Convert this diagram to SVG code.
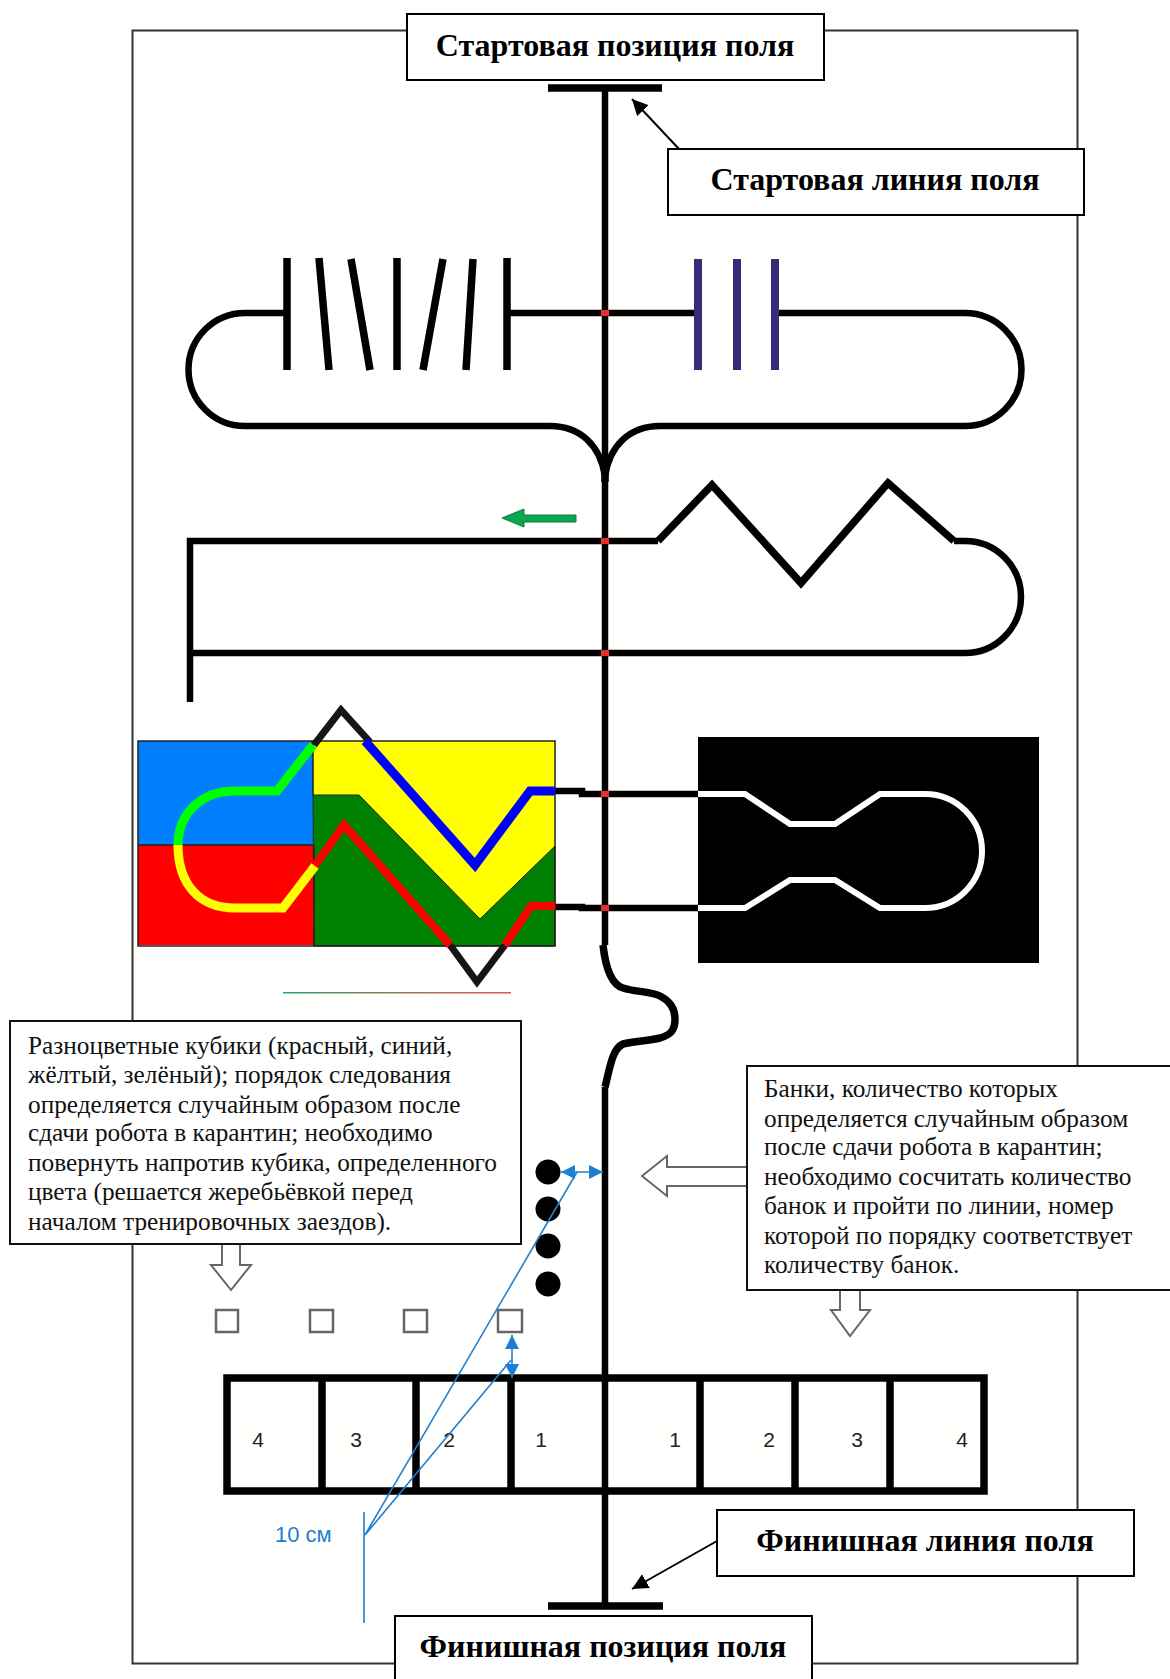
<svg xmlns="http://www.w3.org/2000/svg" width="1170" height="1679" viewBox="0 0 1170 1679">
<style>
.t{fill:none;stroke:#000;stroke-width:6.500}
.bar{fill:none;stroke:#000;stroke-width:7.500}
.pb{fill:none;stroke:#3b2a78;stroke-width:8}
.box{fill:#fff;stroke:#000;stroke-width:2}
.cb{fill:#fff;stroke:#111;stroke-width:2}
.title{font:bold 32px "Liberation Serif",serif;text-anchor:middle;fill:#000}
.note{font:25.300px "Liberation Serif",serif;fill:#111}
.num{font:21px "Liberation Sans",sans-serif;fill:#222;text-anchor:middle}
.x{fill:#e03030}
.sq{fill:#fff;stroke:#666;stroke-width:2.500}
.wa{fill:#fff;stroke:#666;stroke-width:2}
.bl{fill:none;stroke:#1f7fd0;stroke-width:1.600}
.ar{fill:none;stroke:#000;stroke-width:2}
</style>
<defs>
<marker id="ah" markerWidth="9" markerHeight="9" refX="8" refY="4" orient="auto"><path d="M0 0L8 4L0 8Z" fill="#000"/></marker>
<marker id="ab" markerWidth="10" markerHeight="10" refX="9" refY="4.500" orient="auto-start-reverse"><path d="M0 0L9 4.500L0 9Z" fill="#1f7fd0"/></marker>
<linearGradient id="g"><stop offset="0" stop-color="#2ea36a"/><stop offset="1" stop-color="#e8544c"/></linearGradient>
</defs>
<rect width="1170" height="1679" fill="#fffffd"/>
<rect id="frame" x="132.500" y="30.500" width="945" height="1633" fill="none" stroke="#333" stroke-width="2"/>

<g id="track">
<path class="bar" d="M548 88H662"/>
<path class="t" d="M605 88V945"/>
<path class="t" d="M287 313H245A56.500 56.500 0 0 0 245 426H550C580 426 600 445 605 476C610 445 630 426 660 426H965A56.500 56.500 0 0 0 965 313H775M698 313H507"/>
<path class="bar" d="M605 470V482"/>
<path class="bar" d="M287 258V370M319 258L329 370M351 259L370 370M397 258V370M443 259L423 370M473 259L466 370M507 258V370"/>
<path class="pb" d="M698 259V370M737 259V370M775 259V370"/>
<path class="t" d="M190 702V541H658"/>
<path class="bar" d="M658 541L712 485L801 583L888 483L954 541"/>
<path class="t" d="M954 541H965A56 56 0 0 1 965 653H190"/>
<path d="M576 515V522H524V527L502 518L524 509V515Z" fill="#0aa650" stroke="#0d7a40"/>
<path class="t" d="M555 791H582V794H698M555 907H582V908H698"/>
<path class="bar" d="M603 945C606 972 613 985 623 988C635 992 650 991 660 996C670 1001 675 1009 675 1019C675 1031 670 1035 660 1038C648 1041 635 1041 623 1044C612 1049 610 1068 605 1087"/>
<path class="t" d="M605 1087V1605"/>
<path class="bar" d="M548 1606H663"/>
<rect class="x" x="601" y="310" width="8" height="6"/>
<rect class="x" x="601" y="538" width="8" height="6"/>
<rect class="x" x="601" y="650" width="8" height="6"/>
<rect class="x" x="601" y="791" width="8" height="6"/>
<rect class="x" x="601" y="905" width="8" height="6"/>
</g>

<g id="color-zone">
<rect x="138" y="741" width="176" height="104" fill="#0080ff"/>
<rect x="138" y="845" width="176" height="100" fill="#f00"/>
<rect x="313" y="741" width="242" height="190" fill="#ff0"/>
<path d="M313 795H359L480 919L555 846V946H314Z" fill="#008000" stroke="#222" stroke-width="1"/>
<path d="M138 741H555V946H138ZM313 741V795M314 845V946M138 845H314" fill="none" stroke="#222" stroke-width="1.500"/>
<path d="M314 745L341 710L370 742M450 945L477 982L505 945" fill="none" stroke="#161616" stroke-width="7"/>
<path d="M365 741L475 865L530 791H555" fill="none" stroke="#00f" stroke-width="9"/>
<path d="M314 867L344 825L450 945M505 945L531 906H555" fill="none" stroke="#f00" stroke-width="8"/>
<path d="M313 745L277 791H235C200 791 178 815 178 845" fill="none" stroke="#0f0" stroke-width="9"/>
<path d="M178 845C178 885 200 908 235 908H283L315 866" fill="none" stroke="#ff0" stroke-width="9"/>
<rect x="283" y="992" width="228" height="1.500" fill="url(#g)"/>
</g>

<g id="inverse-zone">
<rect x="698" y="737" width="341" height="226" fill="#000"/>
<path d="M698 794H745L790 824H835L880 794H925A57 57 0 0 1 925 908H880L835 880H790L745 908H698" fill="none" stroke="#fff" stroke-width="6"/>
</g>

<g id="finish-grid">
<path class="bar" d="M227 1378H984V1491H227ZM322 1378V1491M416 1378V1491M511 1378V1491M700 1378V1491M795 1378V1491M890 1378V1491"/>
<text class="num" x="258" y="1447">4</text>
<text class="num" x="356" y="1447">3</text>
<text class="num" x="449" y="1447">2</text>
<text class="num" x="541" y="1447">1</text>
<text class="num" x="675" y="1447">1</text>
<text class="num" x="769" y="1447">2</text>
<text class="num" x="857" y="1447">3</text>
<text class="num" x="962" y="1447">4</text>
</g>

<g id="cans" fill="#000">
<circle cx="548" cy="1172" r="12.500"/><circle cx="548" cy="1209" r="12.500"/><circle cx="548" cy="1246" r="12.500"/><circle cx="548" cy="1284" r="12.500"/>
</g>
<g id="cubes">
<rect class="sq" x="216" y="1310" width="22" height="22"/><rect class="sq" x="310" y="1310" width="23" height="22"/><rect class="sq" x="404" y="1310" width="23" height="22"/><rect class="sq" x="498" y="1310" width="24" height="22"/>
</g>

<g id="connectors">
<path class="ar" marker-end="url(#ah)" d="M679 149L632 99"/>
<path class="ar" marker-end="url(#ah)" d="M717 1541L632 1589"/>
<path class="wa" d="M222 1243H240V1265H251L231 1290L211 1265H222Z"/>
<path class="wa" d="M747 1167H667V1156L642 1176L667 1196V1186H747Z"/>
<path class="wa" d="M840 1288H860V1310H870L850 1336L831 1310H840Z"/>
<path class="bl" marker-start="url(#ab)" marker-end="url(#ab)" d="M561 1172H603"/>
<path class="bl" marker-start="url(#ab)" marker-end="url(#ab)" d="M512 1335V1378"/>
<path class="bl" d="M364 1512V1623M365 1535L577 1172M365 1535L511 1360"/>
</g>
<text id="dim" x="275" y="1542" font-family="Liberation Sans,sans-serif" font-size="22" fill="#1f7fd0">10 см</text>

<g id="start-pos"><rect class="box" x="407" y="14" width="417" height="66"/><text class="title" x="615" y="56">Стартовая позиция поля</text></g>
<g id="start-line"><rect class="box" x="668" y="149" width="416" height="66"/><text class="title" x="875" y="190">Стартовая линия поля</text></g>
<g id="finish-line"><rect class="box" x="717" y="1510" width="417" height="66"/><text class="title" x="925" y="1551">Финишная линия поля</text></g>
<g id="finish-pos"><rect class="box" x="395" y="1616" width="417" height="70"/><text class="title" x="603" y="1657">Финишная позиция поля</text></g>

<g id="note-left"><rect class="cb" x="10" y="1021" width="511" height="223"/>
<text class="note" x="28" y="1054">Разноцветные кубики (красный, синий,</text>
<text class="note" x="28" y="1083">жёлтый, зелёный); порядок следования</text>
<text class="note" x="28" y="1113">определяется случайным образом после</text>
<text class="note" x="28" y="1141">сдачи робота в карантин; необходимо</text>
<text class="note" x="28" y="1171">повернуть напротив кубика, определенного</text>
<text class="note" x="28" y="1200">цвета (решается жеребьёвкой перед</text>
<text class="note" x="28" y="1230">началом тренировочных заездов).</text>
</g>
<g id="note-right"><rect class="cb" x="747" y="1066" width="424" height="224"/>
<text class="note" x="764" y="1097">Банки, количество которых</text>
<text class="note" x="764" y="1127">определяется случайным образом</text>
<text class="note" x="764" y="1155">после сдачи робота в карантин;</text>
<text class="note" x="764" y="1185">необходимо сосчитать количество</text>
<text class="note" x="764" y="1214">банок и пройти по линии, номер</text>
<text class="note" x="764" y="1244">которой по порядку соответствует</text>
<text class="note" x="764" y="1273">количеству банок.</text>
</g>
</svg>
